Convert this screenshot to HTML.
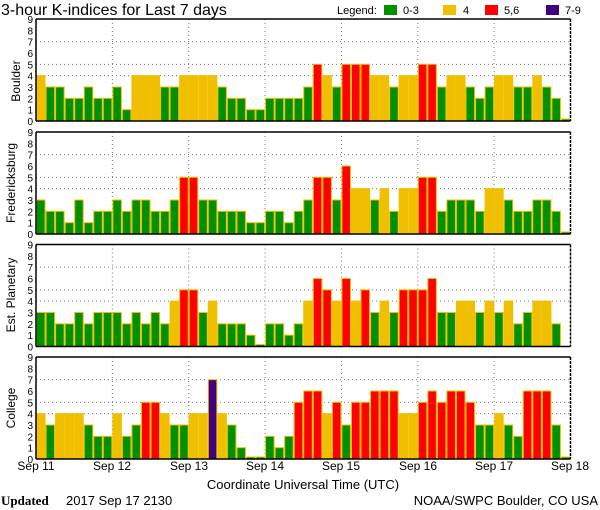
<!DOCTYPE html>
<html><head><meta charset="utf-8"><style>
html,body{margin:0;padding:0;background:#fff;width:600px;height:510px;overflow:hidden}
svg{display:block}
text{font-family:"Liberation Sans",sans-serif;fill:#000}
</style></head><body>
<svg id="s" width="600" height="510" viewBox="0 0 600 510" xmlns="http://www.w3.org/2000/svg">
<text x="1" y="15" font-size="16">3-hour K-indices for Last 7 days</text>
<text x="337" y="14" font-size="11">Legend:</text>
<rect x="384" y="5" width="13" height="10" fill="#009000"/><text x="403" y="14" font-size="11">0-3</text>
<rect x="443" y="5" width="13" height="10" fill="#f0c000"/><text x="463" y="14" font-size="11">4</text>
<rect x="485" y="5" width="13" height="10" fill="#ff0000"/><text x="504" y="14" font-size="11">5,6</text>
<rect x="546" y="5" width="13" height="10" fill="#400080"/><text x="565" y="14" font-size="11">7-9</text>
<text x="20" y="81" font-size="12" transform="rotate(-90 20 81)" text-anchor="middle">Boulder</text>
<text x="15" y="183" font-size="12" transform="rotate(-90 15 183)" text-anchor="middle">Fredericksburg</text>
<text x="15" y="295" font-size="12" transform="rotate(-90 15 295)" text-anchor="middle">Est. Planetary</text>
<text x="15" y="408" font-size="12" transform="rotate(-90 15 408)" text-anchor="middle">College</text>
<g font-size="12" text-anchor="middle">
<text x="36" y="470">Sep 11</text><text x="112" y="470">Sep 12</text><text x="189" y="470">Sep 13</text><text x="265" y="470">Sep 14</text><text x="341" y="470">Sep 15</text><text x="418" y="470">Sep 16</text><text x="494" y="470">Sep 17</text><text x="570" y="470">Sep 18</text>
</g>
<text x="303" y="489" font-size="13" text-anchor="middle">Coordinate Universal Time (UTC)</text>
<text x="1" y="505" font-size="13" font-family="Liberation Serif" font-weight="bold" style="font-family:'Liberation Serif',serif">Updated</text>
<text x="66" y="505" font-size="13">2017 Sep 17 2130</text>
<text x="598" y="505" font-size="13" text-anchor="end">NOAA/SWPC Boulder, CO USA</text>
</svg>
<script>
var D=[
[4,3,3,2,2,3,2,2,3,1,4,4,4,3,3,4,4,4,4,3,2,2,1,1,2,2,2,2,3,5,4,3,5,5,5,4,4,3,4,4,5,5,3,4,4,3,2,3,4,4,3,3,4,3,2,0],
[3,2,2,1,3,1,2,2,3,2,3,3,2,2,3,5,5,3,3,2,2,2,1,1,2,2,1,2,3,5,5,3,6,4,4,3,4,2,4,4,5,5,2,3,3,3,2,4,4,3,2,2,3,3,2,0],
[3,3,2,2,3,2,3,3,3,2,3,2,3,2,4,5,5,3,4,2,2,2,1,0,2,2,1,2,4,6,5,4,6,4,5,3,4,3,5,5,5,6,3,3,4,4,3,4,3,4,2,3,4,4,2,-1],
[4,3,4,4,4,3,2,2,4,2,3,5,5,4,3,3,4,4,7,4,3,1,0,0,2,1,2,5,6,6,4,5,3,5,5,6,6,6,4,4,5,6,5,6,6,5,3,3,4,3,2,6,6,6,3,0]];
var tops=[19,132,244.5,357],L=36,R=570.5,H=102,u=H/9,bw=(R-L)/56,dw=(R-L)/7;
var s='';
function col(v){return v<=3?'#009000':v==4?'#f0c000':v<=6?'#ff0000':'#400080';}
for(var p=0;p<4;p++){var t=tops[p],b=t+H;
 for(var k=0;k<=9;k++){s+='<text x="33" y="'+(b-k*u+4)+'" font-size="10" text-anchor="end">'+k+'</text>';}
 [4,5,7].forEach(function(k){var y=b-k*u;s+='<line x1="'+L+'" x2="'+R+'" y1="'+y+'" y2="'+y+'" stroke="#777" stroke-dasharray="1,3"/>';});
 for(var d=1;d<7;d++){var x=L+d*dw;s+='<line x1="'+x+'" x2="'+x+'" y1="'+t+'" y2="'+b+'" stroke="#777" stroke-dasharray="1,3"/>';}
 for(var i=0;i<56;i++){var v=D[p][i];if(v<0)continue;var h=v==0?2:v*u;var x=L+i*bw;
  s+='<rect x="'+(x+0.5)+'" y="'+(b-h)+'" width="'+(bw-1)+'" height="'+h+'" fill="'+col(v)+'" stroke="#f0c000" stroke-width="1"/>';}
 s+='<line x1="'+L+'" x2="'+R+'" y1="'+t+'" y2="'+t+'" stroke="#000" stroke-width="1.5"/>';
 s+='<line x1="'+L+'" x2="'+R+'" y1="'+b+'" y2="'+b+'" stroke="#000" stroke-width="1.5"/>';
 s+='<line x1="'+L+'" x2="'+L+'" y1="'+t+'" y2="'+b+'" stroke="#000" stroke-width="1.5"/>';
 s+='<line x1="'+R+'" x2="'+R+'" y1="'+t+'" y2="'+b+'" stroke="#000" stroke-width="1.5" stroke-dasharray="3,1"/>';
}
document.getElementById('s').insertAdjacentHTML('beforeend',s);
</script>
</body></html>
